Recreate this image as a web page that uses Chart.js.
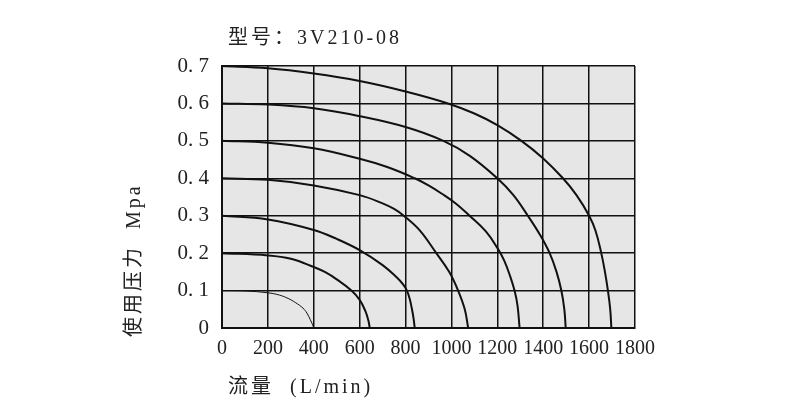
<!DOCTYPE html>
<html>
<head>
<meta charset="utf-8">
<script src="https://cdn.jsdelivr.net/npm/chart.js@4"></script>
<style>
  html, body { margin: 0; padding: 0; background: #fff; }
  #wrap { width: 790px; height: 420px; position: relative; }
</style>
</head>
<body>
<div id="wrap"><canvas id="chart"></canvas></div>
<script>
// ===== データ =====
const chartTitle = '型号：3V210-08';
const xTitle = '流量  (L/min)';
const yTitle = '使用压力  Mpa';
const xTickLabels = ['0', '200', '400', '600', '800', '1000', '1200', '1400', '1600', '1800'];
const yTickLabels = ['0', '0. 1', '0. 2', '0. 3', '0. 4', '0. 5', '0. 6', '0. 7'];

// 各圧力ごとの流量特性カーブ (流量, 圧力) — 図から読み取り
const curve07 = [[0,0.7],[200,0.694],[400,0.68],[600,0.66],[800,0.632],[985,0.6],[1100,0.573],[1200,0.542],[1305,0.5],[1400,0.453],[1486,0.4],[1545,0.355],[1600,0.3],[1628,0.26],[1653,0.2],[1669,0.15],[1682,0.1],[1692,0.05],[1697,0]];
const curve06 = [[0,0.6],[200,0.597],[400,0.587],[600,0.566],[800,0.537],[965,0.5],[1080,0.46],[1200,0.4],[1270,0.355],[1333,0.3],[1385,0.25],[1428,0.2],[1458,0.15],[1479,0.1],[1492,0.05],[1498,0]];
const curve05 = [[0,0.5],[200,0.495],[400,0.48],[600,0.452],[720,0.43],[840,0.4],[900,0.381],[960,0.358],[1020,0.332],[1079,0.3],[1150,0.258],[1200,0.214],[1230,0.18],[1255,0.14],[1275,0.1],[1288,0.06],[1297,0]];
const curve04 = [[0,0.4],[200,0.396],[400,0.381],[600,0.355],[700,0.333],[750,0.318],[792,0.3],[860,0.262],[934,0.2],[990,0.15],[1029,0.1],[1058,0.05],[1073,0]];
const curve03 = [[0,0.3],[200,0.29],[400,0.262],[500,0.238],[600,0.208],[700,0.168],[760,0.136],[790,0.116],[806,0.1],[818,0.078],[828,0.05],[835,0.025],[840,0]];
const curve02 = [[0,0.2],[200,0.194],[300,0.185],[400,0.163],[450,0.149],[500,0.13],[564,0.1],[600,0.075],[625,0.045],[638,0.02],[644,0]];
const curve01 = [[0,0.1],[100,0.099],[200,0.094],[250,0.088],[288,0.079],[320,0.068],[353,0.053],[370,0.04],[385,0.022],[394,0.01],[400,0]];

const curves = [curve07, curve06, curve05, curve04, curve03, curve02, curve01];
const lineWidths = [2, 2, 2, 2, 2, 2, 1];

const FONT = '"Liberation Serif", "Noto Sans CJK SC", serif';

// ===== 背景・タイトル描画プラグイン =====
const plotBg = {
  id: 'plotBg',
  beforeDraw(chart) {
    const { ctx, chartArea: a } = chart;
    ctx.save();
    ctx.fillStyle = '#e6e6e6';
    ctx.fillRect(a.left, a.top, a.right - a.left, a.bottom - a.top);
    ctx.restore();
  },
  afterDraw(chart) {
    const ctx = chart.ctx;
    ctx.save();
    ctx.fillStyle = '#222';
    ctx.font = '20px ' + FONT;
    ctx.letterSpacing = '3px';
    ctx.textBaseline = 'alphabetic';
    ctx.textAlign = 'left';
    ctx.fillText(chartTitle, 228, 44);
    ctx.fillText(xTitle, 228, 393);

    ctx.translate(140, 337);
    ctx.rotate(-Math.PI / 2);
    ctx.fillText(yTitle, 0, 0);
    ctx.restore();
  }
};

new Chart(document.getElementById('chart'), {
  type: 'line',
  data: {
    datasets: curves.map((c, i) => ({
      data: c.map(p => ({ x: p[0], y: p[1] })),
      borderColor: '#111',
      borderWidth: lineWidths[i],
      pointRadius: 0,
      fill: false,
      tension: 0.4,
    }))
  },
  options: {
    responsive: true, maintainAspectRatio: false,
    animation: false,
    layout: { padding: { top: 66, right: 155, bottom: 0, left: 0 } },
    plugins: { legend: { display: false }, tooltip: { enabled: false } },
    scales: {
      x: {
        type: 'linear', min: 0, max: 1800,
        afterFit: s => { s.height = 92; },
        ticks: {
          stepSize: 200, padding: 9, color: '#222',
          maxRotation: 0, minRotation: 0, autoSkip: false,
          font: { family: FONT, size: 20 },
          callback: v => xTickLabels[Math.round(v / 200)],
        },
        grid: { color: '#111', lineWidth: 1.5, drawTicks: false },
        border: { color: '#111', width: 2 },
      },
      y: {
        min: 0, max: 0.7,
        afterFit: s => { s.width = 222; },
        ticks: {
          stepSize: 0.1, padding: 13, color: '#222',
          font: { family: FONT, size: 21 },
          callback: v => yTickLabels[Math.round(v * 10)],
        },
        grid: { color: '#111', lineWidth: 1.5, drawTicks: false },
        border: { color: '#111', width: 2 },
      }
    }
  },
  plugins: [plotBg]
});
</script>
</body>
</html>
